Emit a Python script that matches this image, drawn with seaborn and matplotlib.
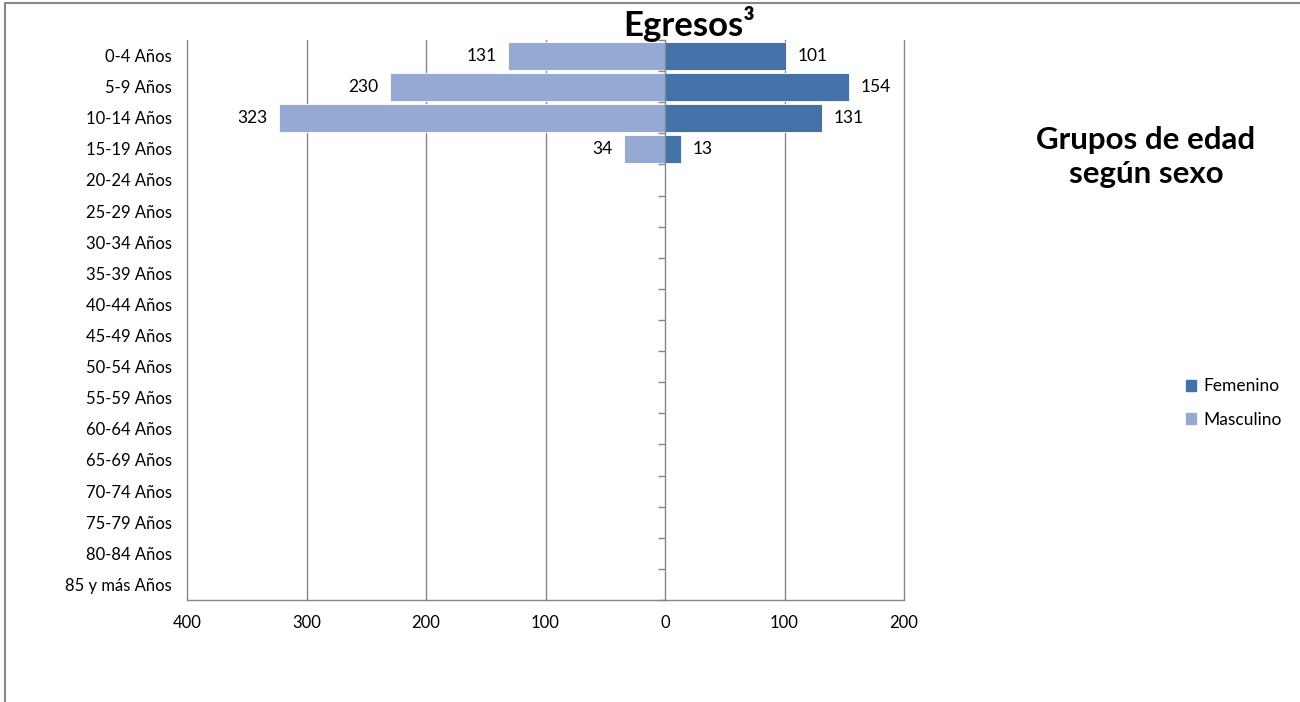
import matplotlib
matplotlib.use("Agg")
import matplotlib.pyplot as plt
import matplotlib.patches as mpatches
from matplotlib.lines import Line2D
import pandas as pd
import seaborn as sns

# age groups, top to bottom
grupos = ["0-4 Años", "5-9 Años", "10-14 Años", "15-19 Años", "20-24 Años", "25-29 Años",
          "30-34 Años", "35-39 Años", "40-44 Años", "45-49 Años", "50-54 Años", "55-59 Años",
          "60-64 Años", "65-69 Años", "70-74 Años", "75-79 Años", "80-84 Años", "85 y más Años"]
femenino = [101, 154, 131, 13, 0, 0, 0, 0, 0, 0, 0, 0, 0, 0, 0, 0, 0, 0]
masculino = [131, 230, 323, 34, 0, 0, 0, 0, 0, 0, 0, 0, 0, 0, 0, 0, 0, 0]
x_ticks = [-400, -300, -200, -100, 0, 100, 200]
x_ticklabels = ["400", "300", "200", "100", "0", "100", "200"]

col_fem = "#4472A8"
col_mas = "#95A9D2"
grid_col = "#868686"

df = pd.DataFrame({
    "Grupo": grupos * 2,
    "Valor": femenino + [-v for v in masculino],
    "Sexo": ["Femenino"] * len(grupos) + ["Masculino"] * len(grupos),
})

sns.set_style("white")
plt.rcParams["font.family"] = ["Lato", "DejaVu Sans"]
plt.rcParams["text.color"] = "black"
plt.rcParams["xtick.color"] = "black"
plt.rcParams["ytick.color"] = "black"

fig = plt.figure(figsize=(13, 7.02), dpi=100)
ax = fig.add_axes([187 / 1300, 1 - 600 / 702, 717 / 1300, 560 / 702])

sns.barplot(data=df, y="Grupo", x="Valor", hue="Sexo", order=grupos,
            hue_order=["Femenino", "Masculino"], palette=[col_fem, col_mas],
            dodge=False, width=0.9, orient="h", edgecolor="white", linewidth=0.6,
            saturation=1, legend=False, ax=ax)

ax.set_xlim(-400, 200)
ax.set_ylim(len(grupos) - 0.5, -0.5)
ax.set_xticks(x_ticks)
ax.set_xticklabels(x_ticklabels, fontsize=12)
ax.set_xlabel("")
ax.set_ylabel("")
ax.tick_params(axis="y", length=0, labelsize=12, labelcolor="black", pad=11)
ax.tick_params(axis="x", length=5, color=grid_col, labelcolor="black", width=1,
               direction="out", pad=6)

for s in ["top", "right", "left"]:
    ax.spines[s].set_visible(False)
ax.spines["bottom"].set_color(grid_col)
ax.spines["bottom"].set_linewidth(1)

for xv in x_ticks:
    if xv != 0:
        ax.axvline(xv, color=grid_col, lw=1, zorder=0, clip_on=False)

# value labels
for i, (f, m) in enumerate(zip(femenino, masculino)):
    if f > 0:
        ax.text(f + 10, i, str(f), va="center", ha="left", fontsize=12.5)
    if m > 0:
        ax.text(-m - 10, i, str(m), va="center", ha="right", fontsize=12.5)

# central axis with boundary ticks
ax2 = ax.twinx()
ax2.set_ylim(ax.get_ylim())
for s in ["top", "right", "bottom"]:
    ax2.spines[s].set_visible(False)
ax2.spines["left"].set_position(("data", 0))
ax2.spines["left"].set_color(grid_col)
ax2.spines["left"].set_linewidth(1)
ax2.yaxis.set_ticks_position("left")
ax2.set_yticks([i + 0.5 for i in range(-1, len(grupos))])
ax2.set_yticklabels([])
ax2.tick_params(axis="y", length=5, color=grid_col, width=1, direction="out")

fig.text(689 / 1300, 1 - 24 / 702, "Egresos³", ha="center", va="center",
         fontsize=25, fontweight="bold")
fig.text(1146 / 1300, 1 - 157 / 702, "Grupos de edad\nsegún sexo", ha="center", va="center",
         fontsize=22.5, fontweight="bold", linespacing=1.25)

handles = [mpatches.Patch(color=col_fem, label="Femenino"),
           mpatches.Patch(color=col_mas, label="Masculino")]
fig.legend(handles=handles, loc="center left", bbox_to_anchor=(1170 / 1300, 1 - 403 / 702),
           frameon=False, fontsize=12.5, handlelength=0.6, handleheight=0.6,
           handletextpad=0.4, labelspacing=1.0)

# chart frame
fig.add_artist(Line2D([5 / 1300, 5 / 1300], [0, 1 - 3 / 702], color="#888888", lw=1.5,
                      transform=fig.transFigure))
fig.add_artist(Line2D([5 / 1300, 1], [1 - 3 / 702, 1 - 3 / 702], color="#888888", lw=1.5,
                      transform=fig.transFigure))

fig.savefig("out.png", dpi=100)
